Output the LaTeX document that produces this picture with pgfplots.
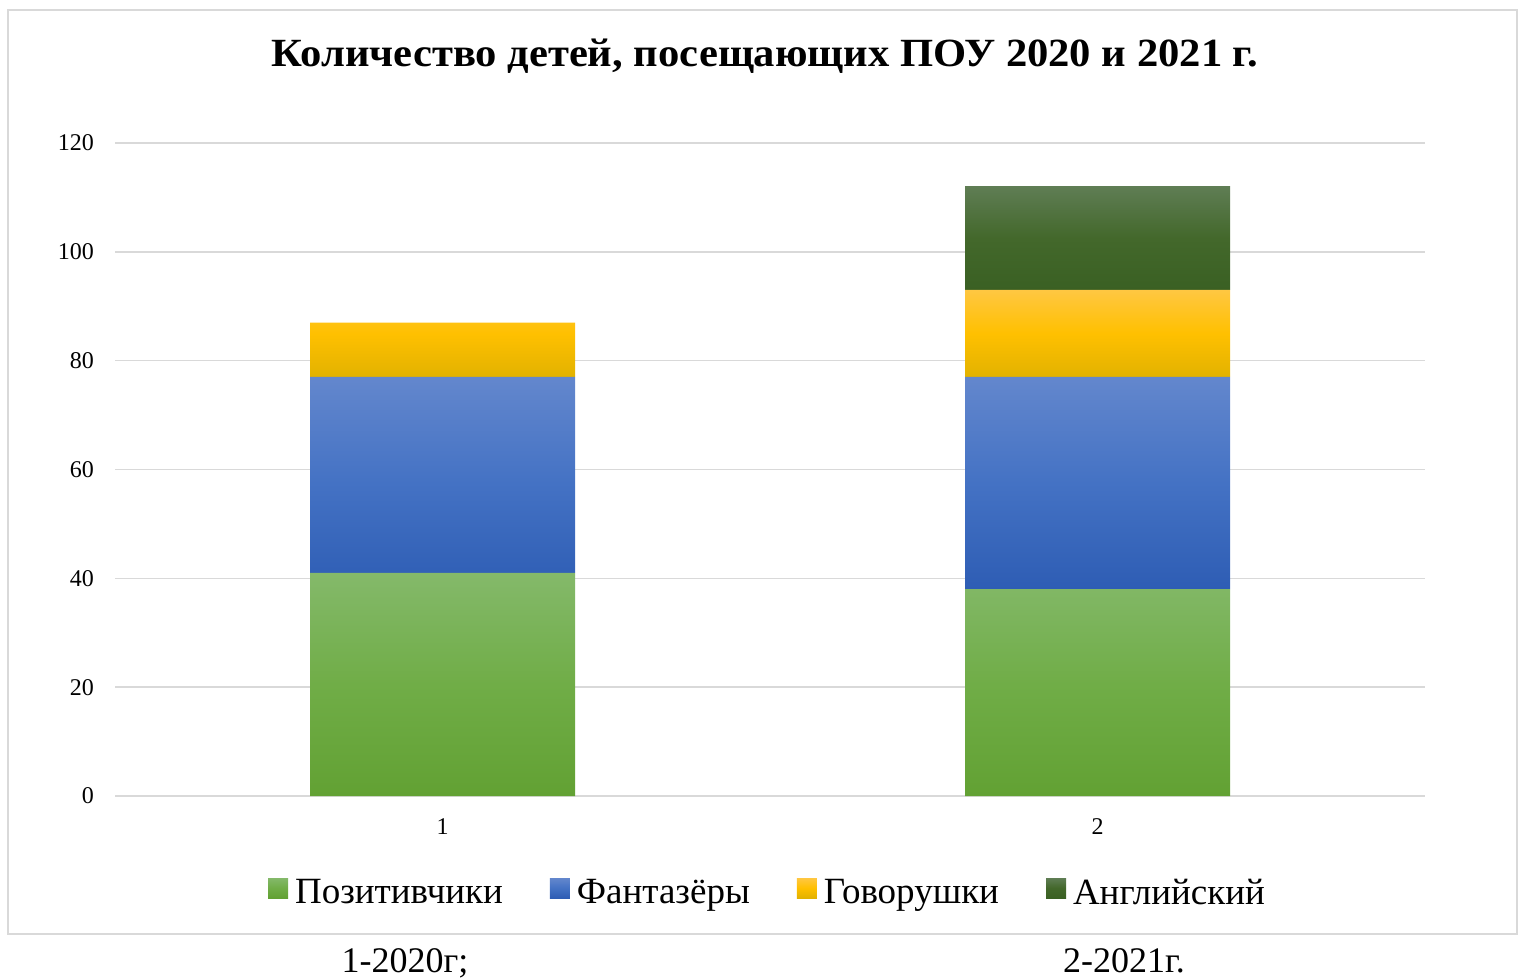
\documentclass[border=0pt]{standalone}
\usepackage{fontspec}
\setmainfont{Liberation Serif}
\usepackage{pgfplots}
\pgfplotsset{compat=1.18}
\definecolor{gridc}{HTML}{D9D9D9}
\definecolor{gtop}{HTML}{84B96A}
\definecolor{gmid}{HTML}{70AD47}
\definecolor{gbot}{HTML}{62A133}
\definecolor{btop}{HTML}{6387CD}
\definecolor{bmid}{HTML}{4472C4}
\definecolor{bbot}{HTML}{2E5DB4}
\definecolor{ytop}{HTML}{FFC742}
\definecolor{ymid}{HTML}{FFC000}
\definecolor{ybot}{HTML}{E2B200}
\definecolor{dtop}{HTML}{5F7D54}
\definecolor{dmid}{HTML}{43682B}
\definecolor{dbot}{HTML}{3A6023}
\begin{document}
\begin{tikzpicture}
\useasboundingbox (0,0) rectangle (759pt,-489.5pt);
\draw[gridc, line width=0.75pt] (4pt,-5pt) rectangle (758.5pt,-467pt);
\node[anchor=base, font=\bfseries\fontsize{20}{24}\selectfont] at (382.5pt,-33.5pt) {\scalebox{1.065}[1]{Количество детей, посещающих ПОУ 2020 и 2021 г.}};
\begin{axis}[
  at={(57.5pt,-398pt)}, anchor=south west,
  scale only axis, width=655pt, height=326.5pt,
  ybar stacked, bar width=132.5pt,
  xmin=0.5, xmax=2.5, ymin=0, ymax=120,
  xtick={1,2}, ytick={0,20,...,120},
  axis line style={draw=none},
  major tick length=0pt,
  ymajorgrids, grid style={gridc, line width=0.75pt},
  tick label style={font=\fontsize{12}{14}\selectfont},
  /pgf/number format/assume math mode=true,
  yticklabel style={xshift=-7pt},
  xticklabel style={yshift=-7.75pt},
  legend image code/.code={\path[#1] (0pt,-2.5pt) rectangle (10pt,7.5pt);},
  legend style={draw=none, fill=none, legend columns=4,
    at={(0.5,-0.1455)}, anchor=center, yshift=-1pt,
    font=\fontsize{18.5}{22}\selectfont,
    nodes={inner xsep=3.5pt},
    /tikz/every even column/.append style={column sep=20pt}},
]
\addplot[draw=none, top color=gtop, bottom color=gbot, middle color=gmid] coordinates {(1,41) (2,38)};
\addplot[draw=none, top color=btop, bottom color=bbot, middle color=bmid] coordinates {(1,36) (2,39)};
\addplot[draw=none, top color=ytop, bottom color=ybot, middle color=ymid] coordinates {(1,10) (2,16)};
\addplot[draw=none, top color=dtop, bottom color=dbot, middle color=dmid] coordinates {(1,0) (2,19)};
\legend{Позитивчики, Фантазёры, Говорушки, Английский}
\end{axis}
\node[anchor=base, font=\fontsize{18}{21}\selectfont] at (202.5pt,-486pt) {1-2020г;};
\node[anchor=base, font=\fontsize{18}{21}\selectfont] at (562pt,-486pt) {2-2021г.};
\end{tikzpicture}
\end{document}
